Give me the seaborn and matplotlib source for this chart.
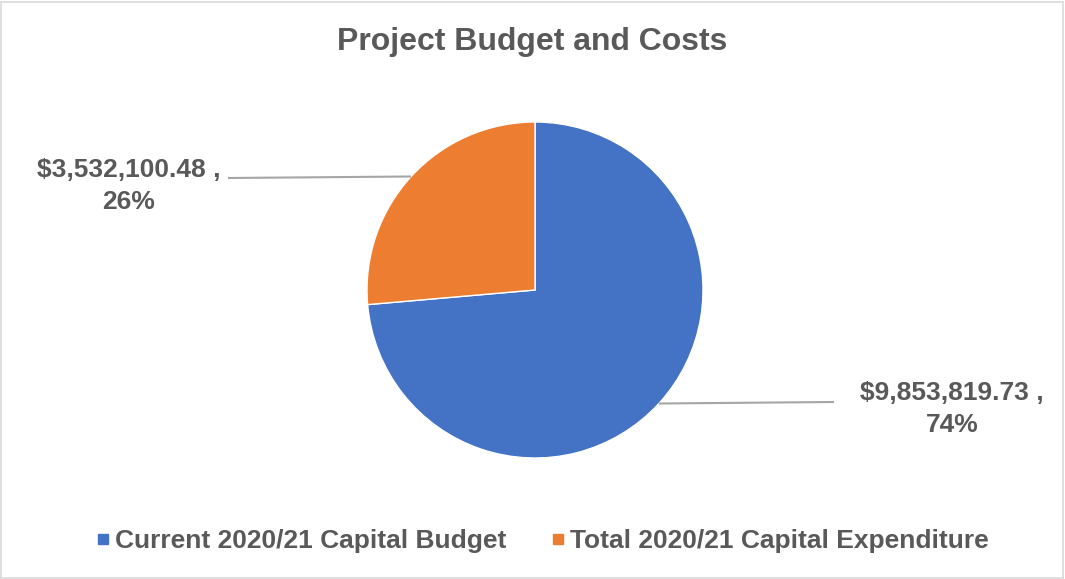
import numpy as np
import matplotlib
matplotlib.use("Agg")
import matplotlib.pyplot as plt
from matplotlib.patches import Rectangle
from matplotlib.lines import Line2D
import seaborn as sns

categories = ["Current 2020/21 Capital Budget", "Total 2020/21 Capital Expenditure"]
values = [9853819.73, 3532100.48]
colors = ["#4472C4", "#ED7D31"]
title = "Project Budget and Costs"

sns.set_theme(style="white")
plt.rcParams["font.family"] = ["Liberation Sans", "DejaVu Sans"]
plt.rcParams["font.weight"] = "bold"

W, H = 1065, 579
fig = plt.figure(figsize=(W / 100, H / 100), dpi=100)
ax = fig.add_axes([0, 0, 1, 1])

cx, cy, r = 535, H - 290, 168
wedges, _ = ax.pie(values, colors=colors, startangle=90, counterclock=False,
                   center=(cx, cy), radius=r,
                   wedgeprops=dict(edgecolor="white", linewidth=1))
ax.set_xlim(0, W)
ax.set_ylim(0, H)
ax.set_aspect("equal")
ax.axis("off")

total = sum(values)
text_color = "#595959"
# label anchor (x, y in pixels from top) and leader end
label_pos = [(952, 409, 834, 402), (129, 186, 228, 178)]
for w, v, (lx, ly, ex, ey) in zip(wedges, values, label_pos):
    ang = np.deg2rad((w.theta1 + w.theta2) / 2)
    sx, sy = cx + r * np.cos(ang), cy + r * np.sin(ang)
    ax.plot([sx, ex], [sy, H - ey], color="#A6A6A6", lw=1.5, solid_capstyle="butt")
    pct = v / total * 100
    ax.text(lx, H - ly, f"${v:,.2f} ,\n{pct:.0f}%", ha="center", va="center",
            fontsize=19, fontweight="bold", color=text_color, linespacing=1.4)

fig.text(0.5, 1 - 42 / H, title, ha="center", va="center", fontsize=23,
         fontweight="bold", color=text_color)

handles = [Line2D([], [], marker="s", linestyle="none", markersize=7,
                  markerfacecolor=c, markeredgecolor=c) for c in colors]
leg = fig.legend(handles, categories, loc="center", bbox_to_anchor=(541 / W, 1 - 541 / H),
                 ncol=2, frameon=False, fontsize=19, handletextpad=0.1,
                 columnspacing=1.6, handlelength=0.7)
for t in leg.get_texts():
    t.set_color(text_color)
    t.set_fontweight("bold")

fig.patches.append(Rectangle((1 / W, 1 / H), 1 - 3 / W, 1 - 3 / H, transform=fig.transFigure,
                             fill=False, edgecolor="#D9D9D9", linewidth=1.2))

fig.savefig("out.png", dpi=100)
